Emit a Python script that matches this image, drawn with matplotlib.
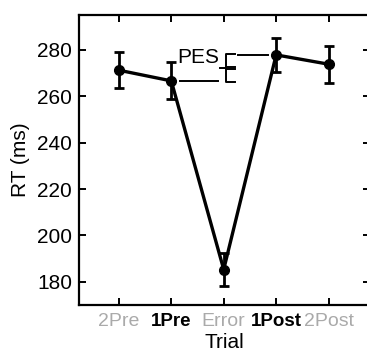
import matplotlib.pyplot as plt
import numpy as np

# Mean RT per trial position with error bars
trials = ['2Pre', '1Pre', 'Error', '1Post', '2Post']
rt_mean = [271.2, 266.6, 185.3, 277.8, 273.8]
rt_err = [7.7, 8.0, 7.0, 7.5, 8.0]
label_colors = ['#aaaaaa', 'black', '#aaaaaa', 'black', '#aaaaaa']
label_weights = ['normal', 'bold', 'normal', 'bold', 'normal']
label_sizes = [14, 13.5, 14, 13.5, 14]

plt.rcParams['font.family'] = ['Liberation Sans', 'DejaVu Sans']

fig = plt.figure(figsize=(3.67, 3.54), dpi=100)
ax = fig.add_axes([79 / 367, 49 / 354, 291 / 367, 290 / 354])

x = np.arange(len(trials))
ax.errorbar(x, rt_mean, yerr=rt_err, color='black', lw=2.4, marker='o',
            markersize=7, capsize=3.5, capthick=2, elinewidth=2, zorder=3)

# PES bracket between 1Pre and 1Post
pre, post = rt_mean[1], rt_mean[3]
mid = (pre + post) / 2
kw = dict(color='black', lw=1.4)
ax.plot([1.16, 1.89], [pre, pre], **kw)
ax.plot([2.27, 2.84], [post, post], **kw)
bx = 2.04
ax.plot([bx + 0.17, bx, bx, bx + 0.17], [post + 0.4, post + 0.4, mid + 0.3, mid + 0.3], **kw)
ax.plot([bx + 0.17, bx, bx, bx + 0.17], [pre - 0.4, pre - 0.4, mid - 0.3, mid - 0.3], **kw)
ax.plot([bx - 0.12, bx], [mid, mid], **kw)
ax.text(1.12, post - 1.0, 'PES', fontsize=15, ha='left', va='center')

ax.set_xlim(-0.76, 4.79)
ax.set_ylim(170, 295)
ax.set_yticks([180, 200, 220, 240, 260, 280])
ax.set_xticks(x)
ax.set_xticklabels(trials)
for lbl, c, w, s in zip(ax.get_xticklabels(), label_colors, label_weights, label_sizes):
    lbl.set_color(c)
    lbl.set_fontweight(w)
    lbl.set_fontsize(s)

ax.tick_params(direction='in', top=True, right=True, length=5, width=1.4)
ax.tick_params(axis='y', labelsize=15, pad=5)
ax.tick_params(axis='x', pad=6)
for s in ax.spines.values():
    s.set_linewidth(1.6)
ax.spines['right'].set_visible(False)

ax.set_xlabel('Trial', fontsize=15, labelpad=2)
ax.set_ylabel('RT (ms)', fontsize=15, labelpad=5)

fig.savefig('out.png', dpi=100)
